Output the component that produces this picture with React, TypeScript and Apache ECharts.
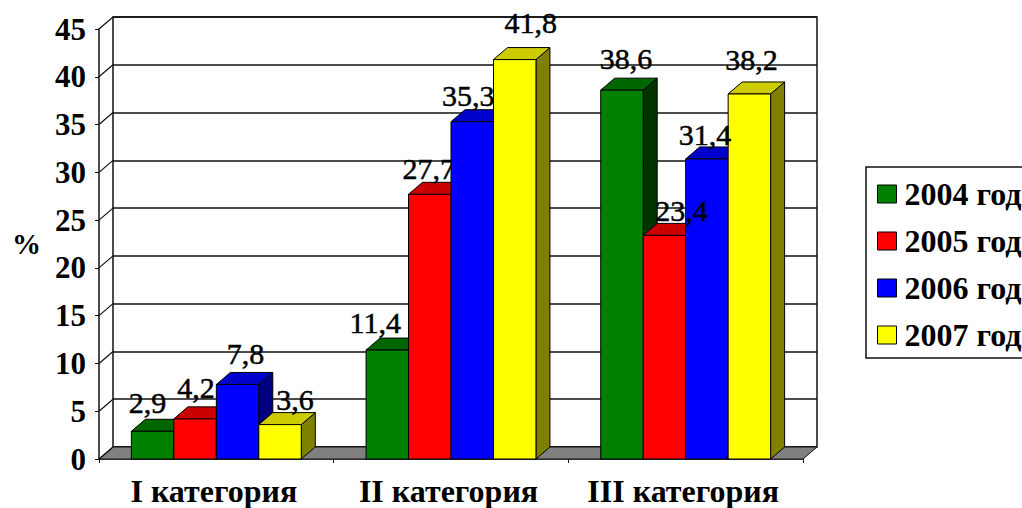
import React, { useEffect, useRef } from "react";
import * as echarts from "echarts";

const categories = ["I категория", "II категория", "III категория"];
const years = ["2004 год", "2005 год", "2006 год", "2007 год"];
const values2004 = [2.9, 11.4, 38.6];
const values2005 = [4.2, 27.7, 23.4];
const values2006 = [7.8, 35.3, 31.4];
const values2007 = [3.6, 41.8, 38.2];
const labels2004 = ["2,9", "11,4", "38,6"];
const labels2005 = ["4,2", "27,7", "23,4"];
const labels2006 = ["7,8", "35,3", "31,4"];
const labels2007 = ["3,6", "41,8", "38,2"];
const yTicks = [0, 5, 10, 15, 20, 25, 30, 35, 40, 45];

const seriesValues = [values2004, values2005, values2006, values2007];
const seriesLabels = [labels2004, labels2005, labels2006, labels2007];
const frontColors = ["#008000", "#ff0000", "#0000ff", "#ffff00"];
const topColors = ["#006600", "#cc0000", "#0000cc", "#cccc00"];
const sideColors = ["#003300", "#800000", "#000080", "#808000"];
// label placement relative to the top of the front face: [dx, baseline dy]
const labelNudges = [
  [[-5, -19], [-12, -18], [4, -22]],
  [[1, -21], [-1, -16], [17, -15]],
  [[8, -21], [-4, -16], [-2, -14]],
  [[15, -15], [16, -27], [2, -24]],
];

const SERIF = '"Liberation Serif", serif';
const DX = 14;
const DY = -12;
const FRONT = { left: 99, top: 29, width: 704, height: 430 };
const BACK = { left: 113, top: 17, width: 704, height: 430 };
const LINE = "#111";
const LW = 1.5;

function frameSeries() {
  return {
    type: "custom",
    xAxisIndex: 0,
    yAxisIndex: 0,
    silent: true,
    z: 1,
    clip: false,
    encode: { y: 0 },
    data: yTicks.map((t) => [t]),
    renderItem: (params: any, api: any) => {
      const cs = params.coordSys;
      const y = api.coord([0, api.value(0)])[1];
      const children: any[] = [];
      if (api.value(0) === 0) {
        children.push({
          type: "polygon",
          shape: {
            points: [
              [cs.x, y],
              [cs.x + DX, y + DY],
              [cs.x + cs.width + DX, y + DY],
              [cs.x + cs.width, y],
            ],
          },
          style: { fill: "#808080", stroke: LINE, lineWidth: 1 },
        });
      }
      children.push({
        type: "line",
        shape: { x1: cs.x, y1: y, x2: cs.x + DX, y2: y + DY },
        style: { stroke: LINE, lineWidth: 1.2 },
      });
      return { type: "group", children };
    },
  };
}

function barSeries(si: number) {
  return {
    type: "custom",
    name: years[si],
    xAxisIndex: 0,
    yAxisIndex: 0,
    silent: true,
    z: 2,
    clip: false,
    itemStyle: { color: frontColors[si] },
    encode: { x: 0, y: 1 },
    data: seriesValues[si].map((v, i) => [i, v]),
    renderItem: (_params: any, api: any) => {
      const c = api.value(0);
      const p = api.coord([c, api.value(1)]);
      const base = api.coord([c, 0])[1];
      const w = api.size([1, 0])[0] * 0.181;
      const x0 = p[0] + (si - 2) * w;
      const x1 = x0 + w;
      const t = p[1];
      const nudge = labelNudges[si][c];
      const edge = { stroke: "#000", lineWidth: 1 };
      return {
        type: "group",
        children: [
          {
            type: "polygon",
            shape: { points: [[x1, t], [x1 + DX, t + DY], [x1 + DX, base + DY], [x1, base]] },
            style: { fill: sideColors[si], ...edge },
          },
          {
            type: "polygon",
            shape: { points: [[x0, t], [x0 + DX, t + DY], [x1 + DX, t + DY], [x1, t]] },
            style: { fill: topColors[si], ...edge },
          },
          {
            type: "rect",
            shape: { x: x0, y: t, width: w, height: base - t },
            style: { fill: frontColors[si], ...edge },
          },
          {
            type: "text",
            z2: c === 2 ? 10 : 0,
            style: {
              text: seriesLabels[si][c],
              x: (x0 + x1) / 2 + nudge[0],
              y: t + nudge[1] - 10,
              align: "center",
              verticalAlign: "middle",
              fill: "#000",
              stroke: "#000",
              lineWidth: 0.5,
              font: `30px ${SERIF}`,
            },
          },
        ],
      };
    },
  };
}

export default function App() {
  const ref = useRef<HTMLDivElement>(null);
  useEffect(() => {
    document.body.style.margin = "0";
    const chart = echarts.init(ref.current!, undefined, { renderer: "svg" });
    chart.setOption({
      animation: false,
      backgroundColor: "#fff",
      grid: [
        { ...FRONT, containLabel: false, outerBoundsMode: "none" },
        {
          ...BACK,
          outerBoundsMode: "none",
          show: true,
          borderColor: LINE,
          borderWidth: LW,
          backgroundColor: "transparent",
        },
      ],
      xAxis: [
        {
          type: "category",
          gridIndex: 0,
          data: categories,
          axisLine: { lineStyle: { color: LINE, width: LW } },
          axisTick: { show: true, length: 4, lineStyle: { color: LINE, width: 1 } },
          axisLabel: {
            margin: 16,
            padding: [0, 5, 0, 0],
            fontFamily: SERIF,
            fontWeight: "bold",
            fontSize: 32,
            color: "#000",
            interval: 0,
          },
        },
        { type: "category", gridIndex: 1, data: categories, show: false },
      ],
      yAxis: [
        {
          type: "value",
          gridIndex: 0,
          min: 0,
          max: 45,
          interval: 5,
          name: "%",
          nameLocation: "middle",
          nameRotate: 0,
          nameGap: 58,
          nameTextStyle: { fontFamily: SERIF, fontWeight: "bold", fontSize: 29, color: "#000" },
          axisLine: { show: true, lineStyle: { color: LINE, width: LW } },
          axisTick: { show: true, length: 4, lineStyle: { color: LINE, width: 1 } },
          axisLabel: { margin: 13, fontFamily: SERIF, fontWeight: "bold", fontSize: 31, color: "#000" },
          splitLine: { show: false },
        },
        {
          type: "value",
          gridIndex: 1,
          min: 0,
          max: 45,
          interval: 5,
          axisLine: { show: false },
          axisTick: { show: false },
          axisLabel: { show: false },
          splitLine: { show: true, lineStyle: { color: LINE, width: LW } },
        },
      ],
      legend: {
        orient: "vertical",
        left: 866,
        top: 167,
        padding: [11, 40, 7, 11],
        itemGap: 15,
        itemWidth: 19,
        itemHeight: 18,
        icon: "rect",
        borderColor: LINE,
        borderWidth: LW,
        backgroundColor: "#fff",
        selectedMode: false,
        data: years,
        itemStyle: { borderColor: "#000", borderWidth: 1 },
        textStyle: {
          fontFamily: SERIF,
          fontWeight: "bold",
          fontSize: 32,
          color: "#000",
          padding: [0, 0, 0, 3],
        },
      },
      series: [frameSeries(), barSeries(0), barSeries(1), barSeries(2), barSeries(3)],
    });
    return () => chart.dispose();
  }, []);
  return <div ref={ref} style={{ width: 1022, height: 508 }} />;
}
